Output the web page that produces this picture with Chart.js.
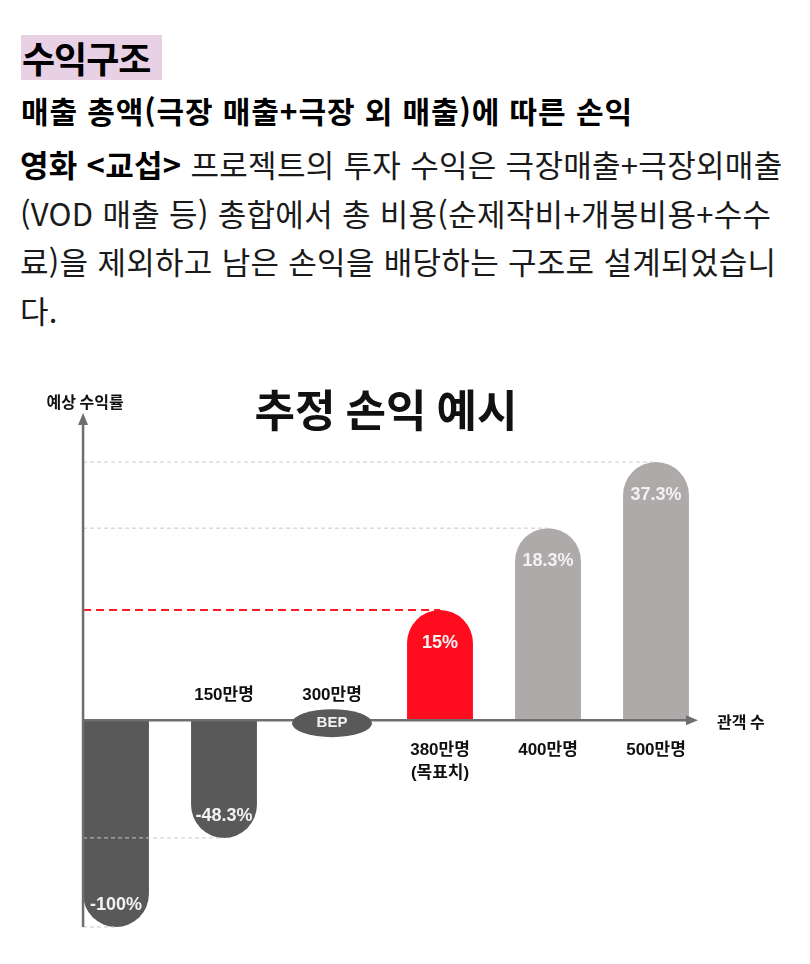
<!DOCTYPE html>
<html lang="ko">
<head>
<meta charset="utf-8">
<script src="https://cdn.jsdelivr.net/npm/chart.js@4.4.1/dist/chart.umd.min.js"></script>
<style>
  html, body { margin: 0; padding: 0; background: #fff; }
  body { width: 810px; height: 964px; position: relative; overflow: hidden; font-family: "Noto Sans CJK KR", sans-serif; color: #111; }
  .tag { position: absolute; left: 21px; top: 35px; width: 141px; height: 45px; box-sizing: border-box; padding-left: 1px; background: #e8d0e5; font-size: 36px; font-weight: 700; line-height: 45px; letter-spacing: -1px; color: #000; }
  .sub { position: absolute; left: 21px; top: 88px; font-size: 30px; font-weight: 700; line-height: 44px; white-space: nowrap; letter-spacing: 0.9px; color: #000; }
  .body { position: absolute; left: 20px; top: 140px; font-size: 31px; line-height: 48.5px; white-space: nowrap; color: #1a1a1a; letter-spacing: 0.3px; }
  .body b { font-weight: 700; color: #000; }
  #wrap { position: absolute; left: 0; top: 370px; width: 772px; height: 594px; }
</style>
</head>
<body>
<div class="tag">수익구조</div>
<div class="sub">매출 총액(극장 매출+극장 외 매출)에 따른 손익</div>
<div class="body">
  <b>영화 &lt;교섭&gt;</b> 프로젝트의 투자 수익은 극장매출+극장외매출<br>
  (VOD 매출 등) 총합에서 총 비용(순제작비+개봉비용+수수<br>
  료)을 제외하고 남은 손익을 배당하는 구조로 설계되었습니<br>
  다.
</div>
<div id="wrap"><canvas id="profitChart"></canvas></div>
<script>
(function () {
    // 관객 수 구간별 예상 수익률
    const audience = ['', '150만명', '300만명', ['380만명', '(목표치)'], '400만명', '500만명'];
    const returnRate = [-100, -48.3, 0, 15, 18.3, 37.3];
    const rateText = ['-100%', '-48.3%', 'BEP', '15%', '18.3%', '37.3%'];
    const targetIndex = 3;

    // 그림처럼 구간마다 간격이 다른 세로축 (값 -> 축 위 비율)
    const levelPos = [0, 0.174, 0.404, 0.619, 0.779, 0.908];

    const barColors = ['#595959', '#595959', '#595959', '#ff0d1f', '#aeaaaa', '#aeaaaa'];

    class WarpScale extends Chart.LinearScale {
        warp(v) {
            const k = this.options.knots;
            if (v <= k[0][0]) return k[0][1];
            for (let i = 1; i < k.length; i++) {
                if (v <= k[i][0]) {
                    const [v0, f0] = k[i - 1];
                    const [v1, f1] = k[i];
                    return f0 + (v - v0) / (v1 - v0) * (f1 - f0);
                }
            }
            return k[k.length - 1][1];
        }
        getPixelForValue(value) {
            return value === null ? NaN : this.getPixelForDecimal(this.warp(value));
        }
    }
    WarpScale.id = 'warp';
    WarpScale.defaults = Chart.LinearScale.defaults;
    Chart.register(WarpScale);

    const knots = returnRate.map((v, i) => [v, levelPos[i]]).concat([[45, 1]]);

    const decor = {
        id: 'decor',
        afterDatasetsDraw(chart) {
            const { ctx, chartArea, scales: { y } } = chart;
            const bars = chart.getDatasetMeta(0).data;
            const zero = y.getPixelForValue(0);
            const axisX = bars[0].x - bars[0].width / 2;
            const last = bars[bars.length - 1];
            const endX = last.x + last.width / 2 + 9;
            const bottom = y.getPixelForValue(-100);
            ctx.save();

            // 기준 점선
            bars.forEach((bar, i) => {
                if (returnRate[i] === 0) return;
                ctx.beginPath();
                if (i === targetIndex) {
                    ctx.strokeStyle = '#ff1a26';
                    ctx.lineWidth = 2;
                    ctx.setLineDash([8, 5]);
                } else {
                    ctx.strokeStyle = '#c8c8c8';
                    ctx.lineWidth = 1;
                    ctx.setLineDash([4, 3]);
                }
                ctx.moveTo(axisX, bar.y);
                ctx.lineTo(bar.x, bar.y);
                ctx.stroke();
            });
            ctx.setLineDash([]);

            // 축 + 화살표
            ctx.strokeStyle = '#6e6e6e';
            ctx.fillStyle = '#6e6e6e';
            ctx.lineWidth = 2.5;
            ctx.beginPath();
            ctx.moveTo(axisX, bottom);
            ctx.lineTo(axisX, chartArea.top + 6);
            ctx.moveTo(axisX, zero);
            ctx.lineTo(endX - 6, zero);
            ctx.stroke();
            ctx.beginPath();
            ctx.moveTo(axisX, chartArea.top - 2);
            ctx.lineTo(axisX - 5, chartArea.top + 10);
            ctx.lineTo(axisX + 5, chartArea.top + 10);
            ctx.closePath();
            ctx.fill();
            ctx.beginPath();
            ctx.moveTo(endX, zero);
            ctx.lineTo(endX - 12, zero - 5);
            ctx.lineTo(endX - 12, zero + 5);
            ctx.closePath();
            ctx.fill();

            // BEP 타원
            const bep = bars[returnRate.indexOf(0)];
            ctx.fillStyle = '#595959';
            ctx.beginPath();
            ctx.ellipse(bep.x, zero + 3, 40, 14, 0, 0, Math.PI * 2);
            ctx.fill();

            // 막대 안 수익률
            ctx.textAlign = 'center';
            ctx.textBaseline = 'middle';
            ctx.font = 'bold 18px "Liberation Sans", Arial, sans-serif';
            ctx.fillStyle = '#f2f2f2';
            bars.forEach((bar, i) => {
                const v = returnRate[i];
                if (v === 0) {
                    ctx.font = 'bold 15px "Liberation Sans", Arial, sans-serif';
                    ctx.fillText(rateText[i], bar.x, zero + 3);
                    ctx.font = 'bold 18px "Liberation Sans", Arial, sans-serif';
                } else {
                    ctx.fillText(rateText[i], bar.x, v > 0 ? bar.y + 33 : bar.y - 22);
                }
            });

            // 관객 수 라벨
            ctx.fillStyle = '#111';
            ctx.font = 'bold 17px "Liberation Sans", "Noto Sans CJK KR", sans-serif';
            bars.forEach((bar, i) => {
                const lines = [].concat(audience[i]);
                if (!lines[0]) return;
                if (returnRate[i] <= 0) {
                    ctx.fillText(lines[0], bar.x, zero - 25);
                } else {
                    lines.forEach((t, j) => ctx.fillText(t, bar.x, zero + 30 + j * 23));
                }
            });

            // 축 이름과 제목
            ctx.font = 'bold 16px "Noto Sans CJK KR", sans-serif';
            ctx.fillText('예상 수익률', axisX + 2, chartArea.top - 13);
            ctx.textAlign = 'left';
            ctx.fillText('관객 수', endX + 19, zero + 2);
            ctx.textAlign = 'center';
            ctx.font = 'bold 44px "Noto Sans CJK KR", sans-serif';
            ctx.fillText('추정 손익 예시', chart.width / 2, chartArea.top - 5);
            ctx.restore();
        }
    };

    new Chart(document.getElementById('profitChart'), {
        type: 'bar',
        data: {
            labels: audience,
            datasets: [{
                data: returnRate,
                backgroundColor: barColors,
                borderRadius: 34,
                borderSkipped: 'start',
                categoryPercentage: 1,
                barPercentage: 0.61
            }]
        },
        options: {
            responsive: true,
            maintainAspectRatio: false,
            animation: false,
            layout: { padding: { top: 45, bottom: 37, left: 62, right: 62 } },
            scales: {
                x: { display: false },
                y: { type: 'warp', display: false, min: -100, max: 45, knots: knots }
            },
            plugins: {
                legend: { display: false },
                tooltip: { enabled: false },
                title: { display: false }
            }
        },
        plugins: [decor]
    });
})();
</script>
</body>
</html>
